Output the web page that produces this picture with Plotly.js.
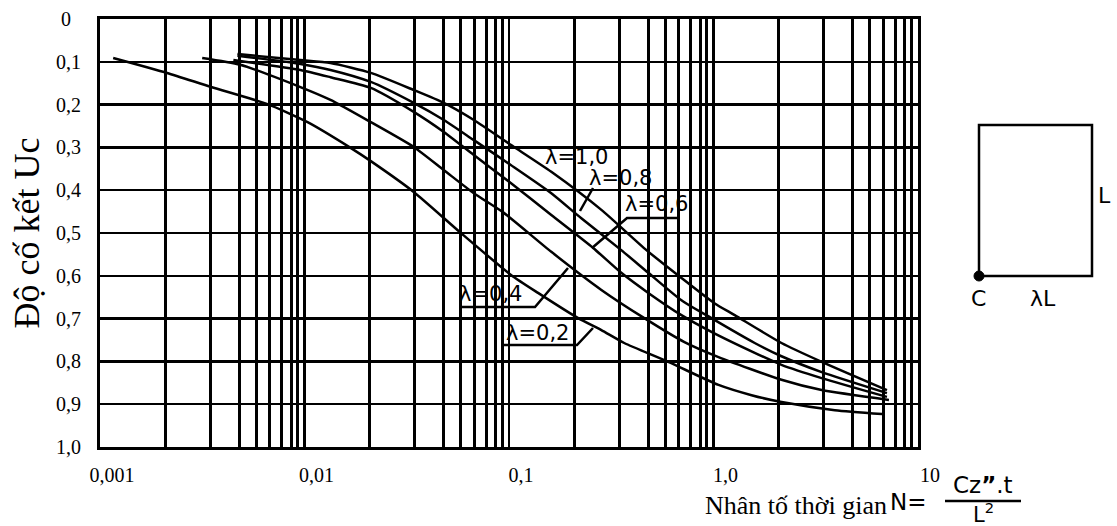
<!DOCTYPE html>
<html><head><meta charset="utf-8">
<script src="https://cdn.plot.ly/plotly-3.0.1.min.js"></script>
<style>html,body{margin:0;padding:0;background:#fff}#chart{width:1117px;height:526px}</style>
</head><body><div id="chart"></div>
<script>
// ---- data (N = time factor, U = degree of consolidation) ----
const seriesNames = ['λ=0,2', 'λ=0,4', 'λ=0,6', 'λ=0,8', 'λ=1,0'];

const N_l02 = [0.00116, 0.00213, 0.0035, 0.00659, 0.01035, 0.0168, 0.0211, 0.0342, 0.0582, 0.1023, 0.1387, 0.218, 0.283, 0.366, 0.601, 1.058, 1.535, 2.153, 3.92, 6.67];
const U_l02 = [0.091, 0.126, 0.159, 0.199, 0.241, 0.301, 0.332, 0.404, 0.500, 0.598, 0.640, 0.699, 0.727, 0.757, 0.801, 0.855, 0.879, 0.895, 0.914, 0.923];

const N_l04 = [0.00316, 0.00485, 0.00955, 0.0134, 0.0211, 0.0342, 0.048, 0.0673, 0.0944, 0.161, 0.283, 0.459, 0.721, 1.058, 2.15, 3.38, 7.21];
const U_l04 = [0.091, 0.107, 0.159, 0.189, 0.241, 0.299, 0.353, 0.407, 0.453, 0.544, 0.633, 0.699, 0.755, 0.790, 0.843, 0.867, 0.890];

const N_l06 = [0.00449, 0.00955, 0.0134, 0.0211, 0.0342, 0.048, 0.0673, 0.102, 0.161, 0.258, 0.354, 0.48, 0.697, 0.977, 1.59, 2.15, 3.38, 7.05];
const U_l06 = [0.096, 0.119, 0.136, 0.161, 0.217, 0.264, 0.318, 0.383, 0.458, 0.535, 0.593, 0.640, 0.692, 0.731, 0.780, 0.808, 0.839, 0.883];

const N_l08 = [0.0047, 0.00955, 0.0134, 0.0211, 0.0342, 0.048, 0.0673, 0.102, 0.161, 0.225, 0.354, 0.48, 0.697, 0.977, 1.59, 2.15, 3.38, 7.05];
const U_l08 = [0.086, 0.105, 0.119, 0.147, 0.196, 0.236, 0.283, 0.341, 0.407, 0.465, 0.540, 0.593, 0.657, 0.699, 0.757, 0.788, 0.825, 0.874];

const N_l10 = [0.0047, 0.00955, 0.0134, 0.0211, 0.0342, 0.048, 0.0673, 0.102, 0.161, 0.283, 0.47, 0.697, 1.01, 1.27, 2.15, 3.38, 7.05];
const U_l10 = [0.082, 0.096, 0.103, 0.126, 0.166, 0.196, 0.236, 0.294, 0.357, 0.446, 0.540, 0.605, 0.664, 0.692, 0.757, 0.801, 0.867];

const xTickValues = [0.001, 0.01, 0.1, 1, 10];
const xTickLabels = ['0,001', '0,01', '0,1', '1,0', '10'];
const yTickValues = [0, 0.1, 0.2, 0.3, 0.4, 0.5, 0.6, 0.7, 0.8, 0.9, 1.0];
const yTickLabels = ['0', '0,1', '0,2', '0,3', '0,4', '0,5', '0,6', '0,7', '0,8', '0,9', '1,0'];

// ---- styling / layout helpers ----
// minor grid line positions inside each decade as drawn in the reference (fraction of a decade)
const minorGridFrac = [0.320, 0.540, 0.680, 0.765, 0.829, 0.888, 0.936, 0.968];
const minorGridVals = [];
for (let d = -3; d < 1; d++) {
  minorGridFrac.forEach(f => minorGridVals.push(Math.pow(10, d + f)));
}

const seriesN = [N_l02, N_l04, N_l06, N_l08, N_l10];
const seriesU = [U_l02, U_l04, U_l06, U_l08, U_l10];
const traces = seriesNames.map((name, i) => ({
  type: 'scatter', mode: 'lines', name: name,
  x: seriesN[i], y: seriesU[i],
  xaxis: i === 0 ? 'x2' : 'x',
  line: {color: '#000', width: 2.5, shape: 'spline', smoothing: 0.6},
  hoverinfo: 'x+y+name'
}));

// pixel -> paper helpers for annotations (plot area: x 100..918, y 19..447)
const PL = 100, PR = 918, PT = 19, PB = 447;
const px = v => (v - PL) / (PR - PL);
const py = v => (PB - v) / (PB - PT);

const sans = 'DejaVu Sans, Liberation Sans, Arial, sans-serif';
const serif = 'Liberation Serif, Times New Roman, serif';

const labelPos = [[537, 333], [490, 294], [656, 204], [620, 178], [576, 157]];
const annotations = seriesNames.map((t, i) => ({
  text: t, xref: 'paper', yref: 'paper', x: px(labelPos[i][0]), y: py(labelPos[i][1]),
  showarrow: false, font: {family: sans, size: 21, color: '#000'}, xanchor: 'center', yanchor: 'middle'
}));

annotations.push(
  {text: 'Nhân tố thời gian', xref: 'paper', yref: 'paper', x: px(889), y: py(505), xanchor: 'right', yanchor: 'middle',
   showarrow: false, font: {family: serif, size: 26, color: '#000'}},
  {text: 'N=', xref: 'paper', yref: 'paper', x: px(888), y: py(502), xanchor: 'left', yanchor: 'middle',
   showarrow: false, font: {family: sans, size: 23, color: '#000'}},
  {text: 'Cz<b>”</b>.t', xref: 'paper', yref: 'paper', x: px(983), y: py(485), xanchor: 'center', yanchor: 'middle',
   showarrow: false, font: {family: sans, size: 23, color: '#000'}},
  {text: 'L<sup>2</sup>', xref: 'paper', yref: 'paper', x: px(983), y: py(513), xanchor: 'center', yanchor: 'middle',
   showarrow: false, font: {family: sans, size: 21, color: '#000'}},
  {text: 'C', xref: 'paper', yref: 'paper', x: px(978), y: py(298), xanchor: 'center', yanchor: 'middle',
   showarrow: false, font: {family: sans, size: 22, color: '#000'}},
  {text: 'λL', xref: 'paper', yref: 'paper', x: px(1043), y: py(298), xanchor: 'center', yanchor: 'middle',
   showarrow: false, font: {family: sans, size: 22, color: '#000'}},
  {text: 'L', xref: 'paper', yref: 'paper', x: px(1096), y: py(195), xanchor: 'left', yanchor: 'middle',
   showarrow: false, font: {family: sans, size: 22, color: '#000'}}
);

const ln = {color: '#000', width: 2.5};
const pathOf = pts => 'M' + pts.map(p => px(p[0]) + ',' + py(p[1])).join(' L');
const shapes = [
  {type: 'path', xref: 'paper', yref: 'paper', path: pathOf([[593, 188], [580, 211]]), line: ln},
  {type: 'path', xref: 'paper', yref: 'paper', path: pathOf([[592, 248], [627, 218], [677, 218]]), line: ln},
  {type: 'path', xref: 'paper', yref: 'paper', path: pathOf([[460, 307], [535, 307], [568, 268]]), line: ln},
  {type: 'path', xref: 'paper', yref: 'paper', path: pathOf([[503, 345], [577, 345], [593, 328]]), line: ln},
  // fraction bar
  {type: 'line', xref: 'paper', yref: 'paper', x0: px(945), x1: px(1021), y0: py(501), y1: py(501), line: ln},
  // schematic on the right
  {type: 'rect', xref: 'paper', yref: 'paper', x0: px(979), x1: px(1092), y0: py(276), y1: py(125), line: ln},
  {type: 'circle', xref: 'paper', yref: 'paper', x0: px(974), x1: px(984), y0: py(281), y1: py(271),
   line: {color: '#000', width: 1}, fillcolor: '#000'}
];

const layout = {
  width: 1117, height: 526,
  margin: {l: PL, r: 1117 - PR, t: PT, b: 526 - PB},
  paper_bgcolor: '#fff', plot_bgcolor: '#fff',
  showlegend: false,
  xaxis: {
    type: 'log', range: [-3, 1], tickmode: 'array', tickvals: xTickValues, ticktext: xTickLabels,
    showgrid: true, gridcolor: '#000', gridwidth: 2.5, zeroline: false,
    showline: true, linecolor: '#000', linewidth: 3, mirror: true, ticks: '',
    ticklabelshift: 12, ticklabelstandoff: 8,
    tickfont: {family: serif, size: 20, color: '#000'}
  },
  // overlaid axis carrying the intermediate grid lines of each decade
  xaxis2: {
    type: 'log', range: [-3, 1], overlaying: 'x', anchor: 'y', side: 'bottom',
    tickmode: 'array', tickvals: minorGridVals, showticklabels: false, ticks: '',
    showgrid: true, gridcolor: '#000', gridwidth: 3, zeroline: false, showline: false
  },
  yaxis: {
    range: [1, 0], tickmode: 'array', tickvals: yTickValues,
    ticktext: yTickLabels.map(t => t.length === 1 ? t + '\u2007' : t),
    showgrid: true, gridcolor: '#000', gridwidth: 2.5, zeroline: false,
    showline: true, linecolor: '#000', linewidth: 3, mirror: true, ticks: '',
    ticklabelstandoff: 12,
    tickfont: {family: serif, size: 20, color: '#000'},
    title: {text: 'Độ cố kết Uc', font: {family: serif, size: 36, color: '#000'}, standoff: 6}
  },
  annotations: annotations,
  shapes: shapes
};

Plotly.newPlot('chart', traces, layout, {displayModeBar: false, staticPlot: true});
</script>
</body></html>
